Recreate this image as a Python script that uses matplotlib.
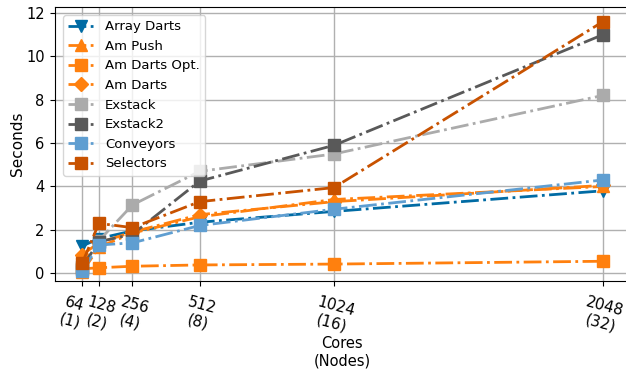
import numpy as np
import matplotlib
matplotlib.use("Agg")
import matplotlib.pyplot as plt
import matplotlib.transforms as mtransforms

plt.style.use("tableau-colorblind10")

cores = [64, 128, 256, 512, 1024, 2048]
tick_labels = ["64\n(1)", "128\n(2)", "256\n(4)", "512\n(8)", "1024\n(16)", "2048\n(32)"]

array_darts = [1.25, 1.6, 1.95, 2.35, 2.85, 3.8]
am_push = [0.05, 1.2, 1.85, 2.6, 3.4, 4.0]
am_darts_opt = [0.2, 0.25, 0.32, 0.38, 0.42, 0.55]
am_darts = [0.85, 1.4, 1.9, 2.7, 3.3, 4.05]
exstack = [0.2, 1.5, 3.15, 4.7, 5.5, 8.2]
exstack2 = [0.3, 1.45, 1.8, 4.25, 5.9, 11.0]
conveyors = [0.1, 1.3, 1.4, 2.2, 2.95, 4.3]
selectors = [0.45, 2.3, 2.1, 3.3, 3.95, 11.6]

series = [
    ("Array Darts", array_darts, "v", "#006BA4"),
    ("Am Push", am_push, "^", "#FF800E"),
    ("Am Darts Opt.", am_darts_opt, "s", "#FF800E"),
    ("Am Darts", am_darts, "D", "#FF800E"),
    ("Exstack", exstack, "s", "#ABABAB"),
    ("Exstack2", exstack2, "s", "#595959"),
    ("Conveyors", conveyors, "s", "#5F9ED1"),
    ("Selectors", selectors, "s", "#C85200"),
]

fig = plt.figure(figsize=(6.26, 3.70), dpi=100)
ax = fig.add_axes([0.088, 0.24, 0.918, 0.741])

for label, y, marker, color in series:
    ms = 7 if marker == "D" else 9
    ax.plot(cores, y, linestyle="-.", linewidth=2, marker=marker,
            markersize=ms, color=color, label=label)

ax.grid(True, color="#b0b0b0", linewidth=1)
ax.set_axisbelow(True)
ax.set_xlim(-39, 2151)
ax.set_ylim(-0.37, 12.28)
ax.set_yticks([0, 2, 4, 6, 8, 10, 12])
ax.set_xticks(cores)
ax.set_xticklabels(tick_labels, rotation=-15, fontsize=11)
ax.tick_params(axis="x", pad=6)
ax.tick_params(axis="y", labelsize=10.5, pad=4)

# nudge the first label left, as in the original
first = ax.get_xticklabels()[0]
first.set_transform(first.get_transform()
                    + mtransforms.ScaledTranslation(-0.1, 0, fig.dpi_scale_trans))

ax.set_xlabel("Cores\n(Nodes)", fontsize=10.5, labelpad=0)
ax.set_ylabel("Seconds", fontsize=11, labelpad=1)
ax.legend(loc="upper left", fontsize=9.5, labelspacing=0.5,
          borderaxespad=0.6)

fig.savefig("out.png", dpi=100)
